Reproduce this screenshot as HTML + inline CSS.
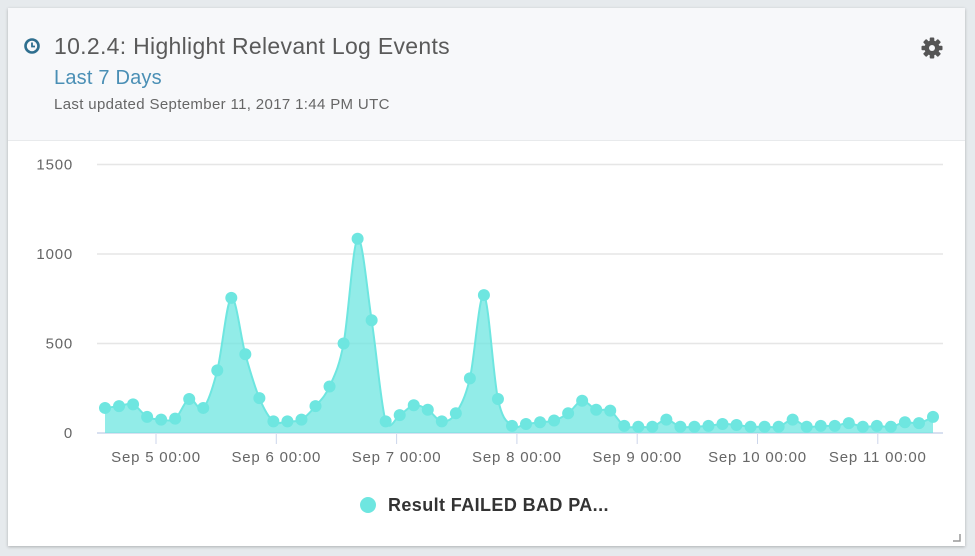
<!DOCTYPE html>
<html><head><meta charset="utf-8"><style>
body{margin:0;width:975px;height:556px;background:#e6eaed;font-family:"Liberation Sans",sans-serif;overflow:hidden;position:relative}
.card{position:absolute;left:8px;top:8px;width:957px;height:538px;background:#fff;box-shadow:0 1px 3px rgba(0,0,0,.25)}
.hdr{position:absolute;left:0;top:0;width:957px;height:132px;background:#f7f8fa;border-bottom:1px solid #e8eaec}
</style></head><body>
<div class="card">
<div class="hdr">
<svg style="position:absolute;left:15px;top:29px" width="18" height="18" viewBox="0 0 18 18"><circle cx="9" cy="9" r="6.5" fill="none" stroke="#2f6f8f" stroke-width="2.6"/><path d="M9 5.5V9.5H12" fill="none" stroke="#2f6f8f" stroke-width="1.8"/></svg>
<div style="position:absolute;left:46px;top:25px;font-size:23px;color:#5a5a5a;letter-spacing:0.3px">10.2.4: Highlight Relevant Log Events</div>
<div style="position:absolute;left:46px;top:59px;font-size:20px;color:#4a8fb5;letter-spacing:0.2px">Last 7 Days</div>
<div style="position:absolute;left:46px;top:88px;font-size:15px;color:#666;letter-spacing:0.35px">Last updated September 11, 2017 1:44 PM UTC</div>
<svg style="position:absolute;left:913px;top:29px" width="22" height="22" viewBox="0 0 22 22"><g fill="#555" transform="translate(11 11)"><circle r="7.5"/><rect x="-2.3" y="-10.5" width="4.6" height="21" rx="1"/><rect x="-2.3" y="-10.5" width="4.6" height="21" rx="1" transform="rotate(45)"/><rect x="-2.3" y="-10.5" width="4.6" height="21" rx="1" transform="rotate(90)"/><rect x="-2.3" y="-10.5" width="4.6" height="21" rx="1" transform="rotate(135)"/><circle r="3" fill="#f7f8fa"/></g></svg>
</div>
</div>
<svg id="ch" style="position:absolute;left:0;top:0" width="975" height="556"></svg>
<svg style="position:absolute;left:953px;top:534px" width="8" height="8"><path d="M7 0V7H0" fill="none" stroke="#999" stroke-width="1.5"/></svg>
<script>
var v=[140,150,160,90,75,80,190,140,350,755,440,195,65,65,75,150,260,500,1085,630,65,100,155,130,65,110,305,770,190,40,50,60,70,110,180,130,125,40,35,35,75,35,35,40,50,45,35,35,35,75,35,40,40,55,35,40,35,60,55,90];
var y0=433,k=89.5/500,s='';
function Y(a){return y0-a*k}
function X(i){return 105+i*(828/59)}
s+='<g font-family="Liberation Sans,sans-serif" font-size="15" fill="#666" letter-spacing="0.8">';
[0,500,1000,1500].forEach(function(t){var y=Y(t);s+='<line x1="97" x2="943" y1="'+y+'" y2="'+y+'" stroke="'+(t?'#e6e6e6':'#ccd6eb')+'" stroke-width="1.5"/><text x="73" y="'+(y+5)+'" text-anchor="end">'+t+'</text>';});
for(var d=0;d<7;d++){var x=156+d*120.3;s+='<line x1="'+x+'" x2="'+x+'" y1="434" y2="444" stroke="#ccd6eb"/><text x="'+x+'" y="462" text-anchor="middle">Sep '+(5+d)+' 00:00</text>';}
s+='</g>';
var p='M'+X(0)+' '+Y(v[0]);
for(var i=0;i<v.length-1;i++){var p0=i?i-1:i,p3=i+2<v.length?i+2:i+1;
var c1x=X(i)+(X(i+1)-X(p0))/6,c1y=Y(v[i])+(Y(v[i+1])-Y(v[p0]))/6,c2x=X(i+1)-(X(p3)-X(i))/6,c2y=Y(v[i+1])-(Y(v[p3])-Y(v[i]))/6;
c1y=Math.min(c1y,y0);c2y=Math.min(c2y,y0);
p+=' C'+c1x+' '+c1y+' '+c2x+' '+c2y+' '+X(i+1)+' '+Y(v[i+1]);}
s+='<path d="'+p+' L'+X(59)+' '+y0+' L'+X(0)+' '+y0+'Z" fill="#6ee6e0" fill-opacity="0.75"/>';
s+='<path d="'+p+'" fill="none" stroke="#6ee6e0" stroke-width="2"/>';
for(i=0;i<v.length;i++)s+='<circle cx="'+X(i)+'" cy="'+Y(v[i])+'" r="6" fill="#6ee6e0"/>';
s+='<circle cx="368" cy="505" r="8" fill="#6ee6e0"/><text x="388" y="511" font-family="Liberation Sans,sans-serif" font-size="18" font-weight="bold" fill="#333" letter-spacing="0.4">Result FAILED BAD PA...</text>';
document.getElementById('ch').innerHTML=s;
</script>
</body></html>
